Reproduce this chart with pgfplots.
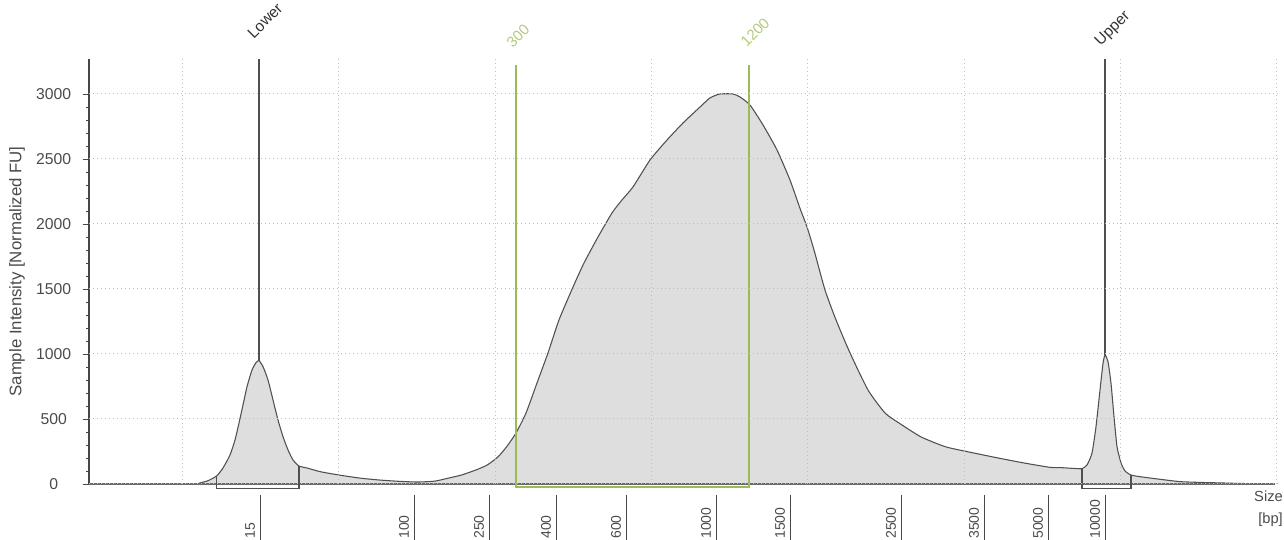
\documentclass[border=0pt]{standalone}
\usepackage{fontspec}
\setmainfont{Liberation Sans}
\usepackage{pgfplots}
\usepackage{pgfplotstable}
\pgfplotsset{compat=1.18}

\definecolor{curvefill}{RGB}{222,222,222}
\definecolor{curveline}{RGB}{80,80,80}
\definecolor{axiscol}{RGB}{70,70,70}
\definecolor{gridcol}{RGB}{190,190,190}
\definecolor{labcol}{RGB}{75,75,75}
\definecolor{markgreen}{RGB}{155,187,89}
\definecolor{textgreen}{RGB}{178,202,125}

% x in pixels of the electropherogram, y in normalized FU
\pgfplotstableread{
x y
89 0
196 0
200 8
208 25
216.7 62
223 123
230 223
235 338
239 469
243 608
247 748
252 877
256 933
259 949
263 903
268 800
273 646
278 492
283 364
288 262
293 185
299 138
307 123
320 95
338 70
360 45
380 30
400 20
418 15
435 22
449 46
462 70
476 108
487 145
498 208
507 290
516 392
526 546
537 777
548 1008
559 1262
573 1515
584 1700
598 1900
612 2085
622 2185
633 2285
650 2492
667 2646
683 2777
700 2900
710 2970
720 3000
733 3000
740 2977
750 2915
763 2762
777 2569
790 2338
800 2120
807 1977
814 1800
825 1492
836 1262
850 1008
868 723
885 546
899 469
921 362
946 285
974 238
998 200
1025 160
1050 128
1060 126
1073 120
1082 118
1087 146
1092 238
1096 441
1100 723
1103 928
1105 992
1108 941
1111 774
1114 518
1117 287
1121 162
1125 100
1131 69
1140 56
1160 36
1180 18
1200 12
1221 8
1240 4
1262 1
1272 0
}\trace

\newcommand\xlab[2]{%
  \draw[axiscol, line width=0.75pt] (axis cs:#1,-84.6) -- (axis cs:#1,-440);
  \node[xshift=-3.5pt, rotate=90, anchor=south west, inner sep=0pt,
        font=\fontsize{10.5}{12}\selectfont, text=labcol] at (axis cs:#1,-423) {#2};}

\begin{document}
\begin{tikzpicture}
\begin{axis}[
  scale only axis,
  width=891.75pt, height=318.8pt,
  xmin=89, xmax=1278, ymin=0, ymax=3270,
  clip=false, axis on top,
  axis line style={draw=none},
  xtick={182,338,495,651,807,964,1120,1276}, xticklabels={},
  x tick style={draw=none},
  ytick={0,500,...,3000}, minor y tick num=4,
  ytick pos=left, tick align=outside,
  major tick length=4.5pt, minor tick length=2.25pt,
  y tick style={axiscol, line width=0.6pt},
  grid=major,
  grid style={gridcol, line width=0.75pt, dash pattern=on 0.75pt off 2.25pt},
  /pgf/number format/assume math mode=true,
  /pgf/number format/1000 sep={},
  yticklabel style={font=\fontsize{11.8}{13}\selectfont, text=labcol, anchor=center, xshift=-22pt},
  ylabel={Sample Intensity [Normalized FU]},
  every axis y label/.style={at={(axis description cs:-0.0606,0.5)}, rotate=90,
    anchor=center, font=\fontsize{12.6}{14}\selectfont, text=labcol},
]
\addplot[draw=curveline, line width=0.8pt, fill=curvefill, smooth, tension=0.35] table {\trace} \closedcycle;

% axis line and baseline
\draw[axiscol, line width=0.9pt] (axis cs:89,0) -- (axis cs:89,3269);
\draw[axiscol!80, line width=1.2pt] (axis cs:89,0) -- (axis cs:1275,0);

% marker boxes
\draw[curveline, line width=0.8pt] (axis cs:216.7,62) -- (axis cs:216.7,-38) -- (axis cs:299,-38) -- (axis cs:299,138);
\draw[curveline, line width=0.8pt] (axis cs:1082,118) -- (axis cs:1082,-38) -- (axis cs:1131,-38) -- (axis cs:1131,69);
\draw[curveline, line width=0.8pt] (axis cs:259,3269) -- (axis cs:259,949);
\draw[curveline, line width=0.8pt] (axis cs:1105,3269) -- (axis cs:1105,992);
\node[rotate=45, font=\fontsize{11.6}{13}\selectfont, text=black!80] at (axis cs:265,3565) {Lower};
\node[rotate=45, font=\fontsize{11.6}{13}\selectfont, text=black!80] at (axis cs:1113,3500) {Upper};

% region
\draw[markgreen, line width=1.8pt] (axis cs:516,3223) -- (axis cs:516,-25) -- (axis cs:749,-25) -- (axis cs:749,3223);
\node[rotate=45, font=\fontsize{11.2}{13}\selectfont, text=textgreen] at (axis cs:518,3445) {300};
\node[rotate=45, font=\fontsize{11.2}{13}\selectfont, text=textgreen] at (axis cs:755,3475) {1200};

% size ladder
\xlab{260}{15}
\xlab{414}{100}
\xlab{489}{250}
\xlab{556}{400}
\xlab{626}{600}
\xlab{716}{1000}
\xlab{790}{1500}
\xlab{901}{2500}
\xlab{984}{3500}
\xlab{1048}{5000}
\xlab{1105}{10000}
\node[anchor=north east, align=right, inner sep=0pt, font=\fontsize{11}{16}\selectfont, text=labcol]
  at (axis cs:1283,-54) {Size\\{[}bp{]}};

\coordinate (bbll) at (axis cs:0,-430.77);
\coordinate (bbur) at (axis cs:1284,3723.08);
\end{axis}
\pgfresetboundingbox
\path[use as bounding box] (bbll) rectangle (bbur);
\end{tikzpicture}
\end{document}
